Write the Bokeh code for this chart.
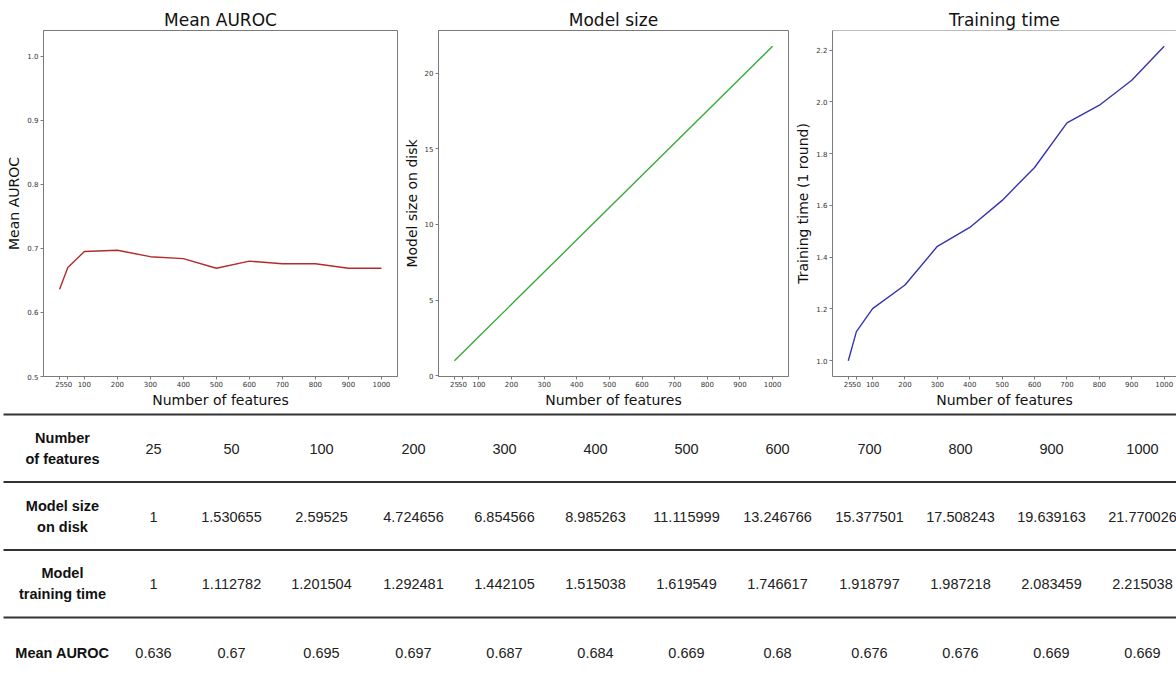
from bokeh.plotting import figure
from bokeh.layouts import column, row
from bokeh.models import Range1d, FixedTicker, PrintfTickFormatter, Span
from bokeh.embed import file_html
from bokeh.resources import INLINE
from bokeh.core.properties import value

# ---------------- data ----------------
features = [25, 50, 100, 200, 300, 400, 500, 600, 700, 800, 900, 1000]
model_size = [1, 1.530655, 2.59525, 4.724656, 6.854566, 8.985263, 11.115999,
              13.246766, 15.377501, 17.508243, 19.639163, 21.770026]
train_time = [1, 1.112782, 1.201504, 1.292481, 1.442105, 1.515038, 1.619549,
              1.746617, 1.918797, 1.987218, 2.083459, 2.215038]
mean_auroc = [0.636, 0.67, 0.695, 0.697, 0.687, 0.684, 0.669, 0.68, 0.676,
              0.676, 0.669, 0.669]

auroc_ticks = [0.5, 0.6, 0.7, 0.8, 0.9, 1.0]
size_ticks = [0, 5, 10, 15, 20]
time_ticks = [1.0, 1.2, 1.4, 1.6, 1.8, 2.0, 2.2]

row_headers = ["Number\nof features", "Model size\non disk", "Model\ntraining time", "Mean AUROC"]

# ---------------- style ----------------
FONT = "DejaVu Sans"
TFONT = "Liberation Sans"
FRAME = "#7a7a7a"


def padded(vals, frac=0.05):
    lo, hi = min(vals), max(vals)
    m = (hi - lo) * frac
    return lo - m, hi + m


x_lo, x_hi = padded(features)


def make_plot(title, ylabel, ys, color, yticks, yfmt, yrange, width, left, right, xrange):
    p = figure(width=width, height=410, x_range=Range1d(*xrange), y_range=Range1d(*yrange),
               toolbar_location=None, output_backend="svg", title=title,
               min_border_left=left, min_border_right=right,
               min_border_top=30, min_border_bottom=32)
    p.title.align = "center"
    p.title.text_font = FONT
    p.title.text_font_size = "17px"
    p.title.text_font_style = "normal"
    p.title.text_color = "#111111"
    p.title.standoff = 2
    p.grid.visible = False
    p.outline_line_color = FRAME
    p.outline_line_width = 1
    p.background_fill_color = "white"
    p.border_fill_color = "white"

    p.xaxis.ticker = FixedTicker(ticks=features)
    p.xaxis.formatter = PrintfTickFormatter(format="%d")
    p.xaxis.axis_label = "Number of features"
    p.yaxis.ticker = FixedTicker(ticks=yticks)
    p.yaxis.formatter = PrintfTickFormatter(format=yfmt)
    p.yaxis.axis_label = ylabel
    for ax in (p.xaxis, p.yaxis):
        ax.axis_label_text_font = FONT
        ax.axis_label_text_font_size = "14px"
        ax.axis_label_text_font_style = "normal"
        ax.axis_label_text_color = "#111111"
        ax.major_label_text_font = FONT
        ax.major_label_text_font_size = "7px"
        ax.major_label_text_color = "#333333"
        ax.major_tick_out = 3
        ax.major_tick_in = 0
        ax.major_tick_line_color = FRAME
        ax.minor_tick_line_color = None
        ax.axis_line_color = FRAME
        ax.axis_label_standoff = 2
    p.xaxis.major_label_standoff = 1
    p.yaxis.major_label_standoff = 2

    p.line(features, ys, line_color=color, line_width=1.4)
    return p


y1 = (0.5, 1.04)
y2 = padded(model_size)
y3 = padded(train_time)

p1 = make_plot("Mean AUROC", "Mean AUROC", mean_auroc, "#b32b2b", auroc_ticks, "%.1f",
               y1, 400, 43, 3, (x_lo, x_hi))
p2 = make_plot("Model size", "Model size on disk", model_size, "#3aaa3a", size_ticks, "%d",
               y2, 392, 35, 4, (x_lo, x_hi))
# third panel is cropped on its right side in the original picture
p3 = make_plot("Training time", "Training time (1 round)", train_time, "#3535b0", time_ticks, "%.1f",
               y3, 384, 35, 0, (x_lo, x_lo + (x_hi - x_lo) * 0.99))
p3.outline_line_color = None
p3.add_layout(Span(location=y3[1], dimension="width", line_color=FRAME, line_width=1))

# ---------------- table ----------------
TH = 271
t = figure(width=1176, height=TH, x_range=Range1d(0, 1176), y_range=Range1d(TH, 0),
           x_axis_location=None, y_axis_location=None, toolbar_location=None,
           output_backend="svg", min_border=0)
t.grid.visible = False
t.outline_line_color = None

head_x = 62
col_x = [153, 231, 321, 413, 504, 595, 686, 777, 869, 960, 1051, 1142]
row_y = [38, 106, 173, 242]
line_y = [4, 71.5, 139.5, 207]

t.segment(x0=[3] * len(line_y), y0=line_y, x1=[1176] * len(line_y), y1=line_y,
          line_color="#333333", line_width=2)

t.text(x=[head_x] * 4, y=row_y, text=row_headers, text_align="center", text_baseline="middle",
       text_font=value(TFONT), text_font_style="bold", text_font_size="14.5px",
       text_color="#111111", text_line_height=1.3)

for ry, vals in zip(row_y, [features, model_size, train_time, mean_auroc]):
    t.text(x=col_x, y=[ry] * len(vals), text=[str(v) for v in vals], text_align="center",
           text_baseline="middle", text_font=value(TFONT), text_font_size="14.5px",
           text_color="#222222")

layout = column(row(p1, p2, p3, spacing=0), t, spacing=0)
open("out.html", "w").write(file_html(layout, INLINE))
